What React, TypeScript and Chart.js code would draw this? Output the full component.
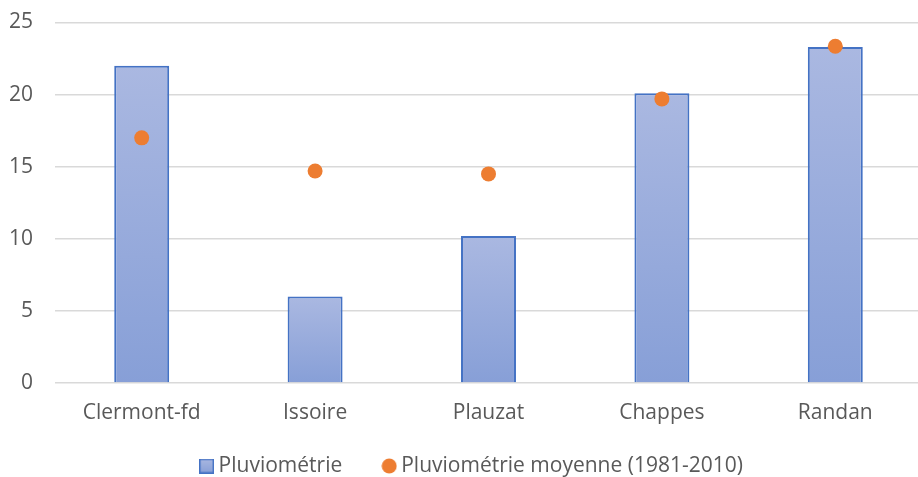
import React, { useEffect, useRef } from "react";
import { Chart, registerables } from "chart.js";

Chart.register(...registerables);

const categories = ["Clermont-fd", "Issoire", "Plauzat", "Chappes", "Randan"];
const pluviometrie = [22, 6, 10.2, 20.1, 23.3];
const pluvioMoyenne = [17, 14.7, 14.5, 19.7, 23.35];
const yTicks = [0, 5, 10, 15, 20, 25];

const FONT = "'Open Sans', sans-serif";
const TEXT = "#595959";
const FS = 21;

function makeSquareIcon() {
  const c = document.createElement("canvas");
  c.width = 15;
  c.height = 15;
  const x = c.getContext("2d")!;
  const g = x.createLinearGradient(0, 0, 0, 15);
  g.addColorStop(0, "#aab8e1");
  g.addColorStop(1, "#879fd7");
  x.fillStyle = g;
  x.fillRect(1, 1, 13, 13);
  x.strokeStyle = "#4472c4";
  x.lineWidth = 1.5;
  x.strokeRect(0.75, 0.75, 13.5, 13.5);
  return c;
}

function makeCircleIcon() {
  const c = document.createElement("canvas");
  c.width = 16;
  c.height = 16;
  const x = c.getContext("2d")!;
  x.fillStyle = "#ed7d31";
  x.beginPath();
  x.arc(8, 8, 7.5, 0, Math.PI * 2);
  x.fill();
  return c;
}

const legendShift = {
  id: "legendShift",
  afterLayout(chart: any) {
    const lg = chart.legend;
    if (!lg) return;
    lg.top -= 16;
    lg.bottom -= 16;
    lg.left += 13;
    lg.right += 13;
  },
};

export default function App() {
  const ref = useRef<HTMLCanvasElement | null>(null);

  useEffect(() => {
    if (!ref.current) return;
    const sq = makeSquareIcon();
    const ci = makeCircleIcon();
    const chart = new Chart(ref.current, {
      type: "bar",
      plugins: [legendShift],
      data: {
        labels: categories,
        datasets: [
          {
            type: "bar",
            label: "Pluviométrie",
            data: pluviometrie,
            order: 1,
            backgroundColor: (ctx: any) => {
              const c = ctx.chart;
              const y = c.scales?.y;
              if (!y || ctx.parsed == null || ctx.type !== "data") return "#98abdc";
              const top = y.getPixelForValue(ctx.parsed.y);
              const bottom = y.getPixelForValue(0);
              if (!isFinite(top) || !isFinite(bottom) || top === bottom) return "#98abdc";
              const g = c.ctx.createLinearGradient(0, top, 0, bottom);
              g.addColorStop(0, "#aab8e1");
              g.addColorStop(1, "#879fd7");
              return g;
            },
            borderColor: "#4472c4",
            borderWidth: 2,
            barPercentage: 0.317,
            categoryPercentage: 1,
          } as any,
          {
            type: "line",
            label: "Pluviométrie moyenne (1981-2010)",
            data: pluvioMoyenne,
            order: 0,
            showLine: false,
            pointRadius: 7.5,
            pointHoverRadius: 7.5,
            pointBackgroundColor: "#ed7d31",
            pointBorderColor: "#ed7d31",
            backgroundColor: "#ed7d31",
            borderColor: "#ed7d31",
            borderWidth: 0,
            pointBorderWidth: 0,
            pointStyle: "circle",
          } as any,
        ],
      },
      options: {
        responsive: false,
        maintainAspectRatio: false,
        animation: false,
        layout: { padding: { left: 0, right: 8, top: 22.5, bottom: 2.5 } },
        plugins: {
          tooltip: { enabled: false },
          legend: {
            position: "bottom",
            labels: {
              usePointStyle: true,
              color: TEXT,
              font: { family: FONT, size: FS },
              boxWidth: 3,
              boxHeight: FS,
              padding: 45.5,
              sort: (a: any, b: any) => a.datasetIndex - b.datasetIndex,
              generateLabels: (chart: any) => {
                const items = Chart.defaults.plugins.legend.labels.generateLabels(chart);
                items.forEach((it: any) => {
                  it.pointStyle = it.datasetIndex === 0 ? sq : ci;
                  it.lineWidth = 0;
                });
                return items;
              },
            },
          },
        },
        scales: {
          x: {
            grid: { display: false, drawTicks: false },
            border: { display: false },
            afterFit: (scale: any) => {
              scale.height = 43;
            },
            ticks: {
              color: TEXT,
              font: { family: FONT, size: FS },
              padding: 17.4,
            },
          },
          y: {
            min: 0,
            max: 25,
            afterBuildTicks: (scale: any) => {
              scale.ticks = yTicks.map((v) => ({ value: v }));
            },
            afterFit: (scale: any) => {
              scale.width = 55;
              scale.paddingTop = 12;
              scale.paddingBottom = 0;
            },
            grid: { color: "#d9d9d9", lineWidth: 1.5, drawTicks: false },
            border: { display: false },
            ticks: {
              color: TEXT,
              font: { family: FONT, size: FS },
              padding: 22,
            },
          },
        },
      },
    });
    return () => chart.destroy();
  }, []);

  return (
    <div
      style={{
        position: "fixed",
        left: 0,
        top: 0,
        width: 918,
        height: 477,
        overflow: "hidden",
        background: "#fff",
      }}
    >
      <canvas ref={ref} width={930} height={505} style={{ display: "block", width: 930, height: 505 }} />
    </div>
  );
}
